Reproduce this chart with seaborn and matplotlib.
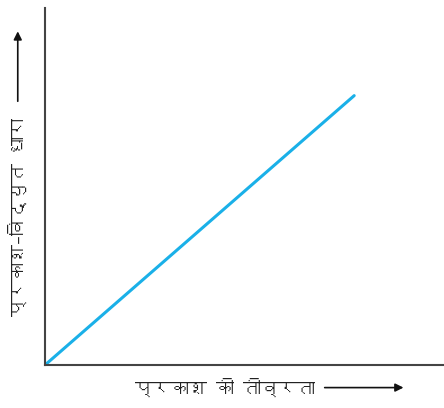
import matplotlib
matplotlib.use('Agg')
import matplotlib.pyplot as plt
from matplotlib import font_manager
from matplotlib.ft2font import FT2Font
import seaborn as sns

# Data
intensity = [0, 7.75]
photocurrent = [0, 7.55]
x_label = 'प्रकाश की तीव्रता'
y_label = 'प्रकाश–विद्युत धारा'

sns.set_style('white')

# find a font that has Devanagari glyphs, if any
deva_font = None
for f in font_manager.fontManager.ttflist:
    try:
        if 0x0915 in FT2Font(f.fname).get_charmap():
            deva_font = f.name
            break
    except Exception:
        pass
families = [deva_font, 'DejaVu Sans'] if deva_font else ['DejaVu Sans']
plt.rcParams['font.family'] = families

fig = plt.figure(figsize=(4.44, 4.08), dpi=100)
ax = fig.add_axes([0.101, 0.105, 0.899, 0.875])
sns.lineplot(x=intensity, y=photocurrent, ax=ax, color='#1ab0e8', linewidth=2.2)
ax.set_xlim(0, 10)
ax.set_ylim(0, 10)
ax.set_xticks([])
ax.set_yticks([])
for s in ['top', 'right']:
    ax.spines[s].set_visible(False)
for s in ['left', 'bottom']:
    ax.spines[s].set_color('#444444')
    ax.spines[s].set_linewidth(1.5)

# axis labels with arrows
fig.text(0.305, 0.05, x_label, fontsize=13, ha='left', va='center', color='#222222')
fig.text(0.04, 0.468, y_label, fontsize=13, ha='center', va='center', rotation=90, color='#222222')
fig.patches.append(matplotlib.patches.FancyArrowPatch((0.725, 0.05), (0.915, 0.05), transform=fig.transFigure,
                   arrowstyle='-|>', mutation_scale=12, color='#111111', lw=1.2))
fig.patches.append(matplotlib.patches.FancyArrowPatch((0.04, 0.745), (0.04, 0.93), transform=fig.transFigure,
                   arrowstyle='-|>', mutation_scale=12, color='#111111', lw=1.2))

fig.savefig('out.png', dpi=100)
